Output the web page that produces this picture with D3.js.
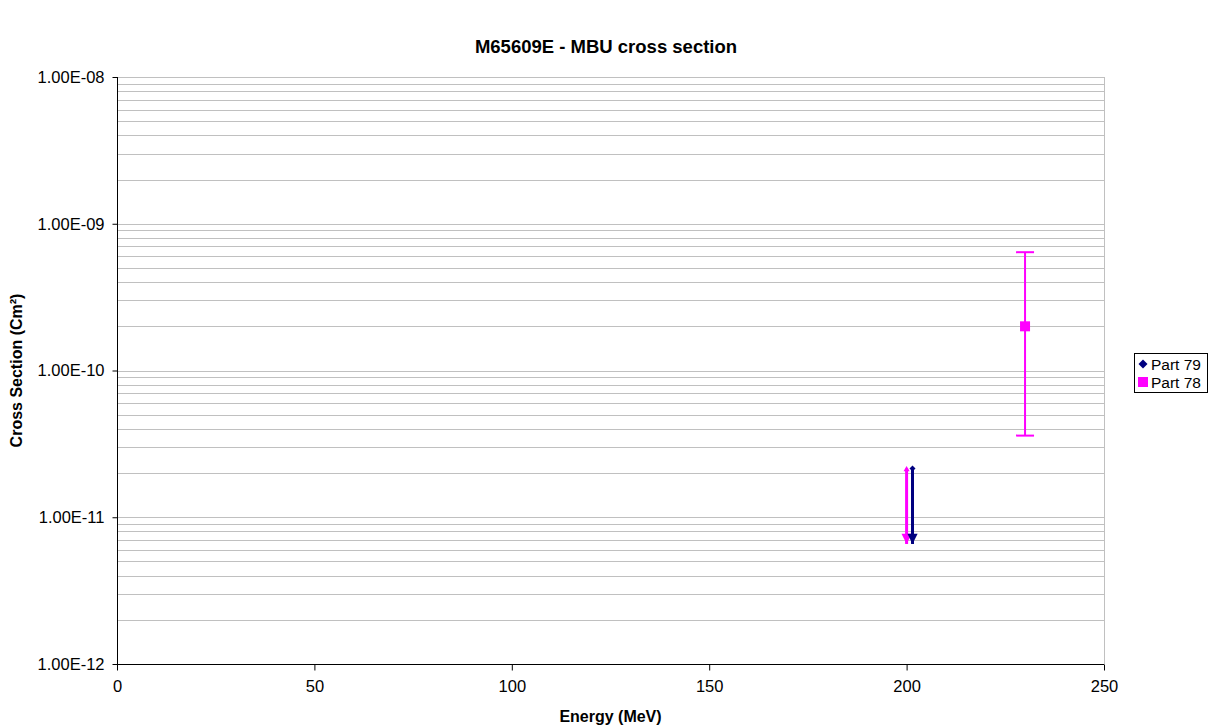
<!DOCTYPE html>
<html>
<head>
<meta charset="utf-8">
<script src="https://cdn.jsdelivr.net/npm/d3@7/dist/d3.min.js"></script>
<style>
  body { margin: 0; background: #fff; }
  svg { display: block; font-family: "Liberation Sans", Arial, sans-serif; }
</style>
</head>
<body>
<svg id="chart" width="1220" height="728"></svg>
<script>
// Series: Part 79 (upper limit, arrow down), Part 78 (upper limit + measured point with error bar)
const part79Energy = [201.5];
const part79Value = [2.15e-11];
const part79Limit = [7.0e-12];

const part78LimitEnergy = [200];
const part78LimitValue = [2.15e-11];
const part78LimitEnd = [7.0e-12];

const part78Energy = [230];
const part78Value = [2.0e-10];
const part78ErrHigh = [6.4e-10];
const part78ErrLow = [3.6e-11];

const xTicks = [0, 50, 100, 150, 200, 250];
const yTicks = [1e-12, 1e-11, 1e-10, 1e-9, 1e-8];
const seriesNames = ["Part 79", "Part 78"];
const seriesColors = ["#000080", "#ff00ff"];

const svg = d3.select("#chart");
const margin = { left: 117, right: 1104, top: 77, bottom: 664 };

const x = d3.scaleLinear().domain([0, 250]).range([margin.left, margin.right]);
const y = d3.scaleLog().domain([1e-12, 1e-8]).range([margin.bottom, margin.top]);

// Square diamond path (rotated square) of half-diagonal r
const diamond = r => `M0,${-r}L${r},0L0,${r}L${-r},0Z`;

// Gridlines: every 1..9 multiple in each decade
const gridVals = [];
for (let e = -12; e < -8; e++) {
  for (let m = 1; m <= 9; m++) gridVals.push(m * Math.pow(10, e));
}
gridVals.push(1e-8);
svg.append("g").selectAll("line").data(gridVals.filter(v => v > 1e-12)).join("line")
  .attr("x1", margin.left).attr("x2", margin.right)
  .attr("y1", d => Math.round(y(d)) + 0.5).attr("y2", d => Math.round(y(d)) + 0.5)
  .attr("stroke", "#c0c0c0").attr("stroke-width", 1);

// Right border of plot area
svg.append("line")
  .attr("x1", margin.right + 0.5).attr("x2", margin.right + 0.5)
  .attr("y1", margin.top).attr("y2", margin.bottom)
  .attr("stroke", "#c0c0c0");

// Axes
const xAxis = d3.axisBottom(x).tickValues(xTicks).tickSize(6).tickPadding(10).tickFormat(d3.format("d"));
const yAxis = d3.axisLeft(y).tickValues(yTicks).tickSize(5).tickPadding(8)
  .tickFormat(d => d.toExponential(2).toUpperCase().replace(/E([+-])(\d)$/, "E$10$2"));

const gx = svg.append("g").attr("transform", `translate(0,${margin.bottom + 0.5})`).call(xAxis);
const gy = svg.append("g").attr("transform", `translate(${margin.left + 0.5},0)`).call(yAxis);
[gx, gy].forEach(g => {
  g.select(".domain").remove();
  g.selectAll(".tick line").attr("stroke", "#000");
  g.selectAll(".tick text").attr("font-size", 16.5).attr("fill", "#000")
    .attr("font-family", "'Liberation Sans', Arial, sans-serif");
});
gx.append("line").attr("x1", margin.left).attr("x2", margin.right).attr("stroke", "#000");
gy.append("line").attr("y1", margin.top).attr("y2", margin.bottom).attr("stroke", "#000");

// Arrowhead markers
const defs = svg.append("defs");
seriesColors.forEach((c, i) => {
  defs.append("marker").attr("id", "arrow" + i)
    .attr("viewBox", "0 0 10 10").attr("refX", 10).attr("refY", 5)
    .attr("markerWidth", 3.6).attr("markerHeight", 3.4).attr("orient", "auto")
    .attr("markerUnits", "strokeWidth")
    .append("path").attr("d", "M0,0L10,5L0,10Z").attr("fill", c);
});

const plot = svg.append("g");

// Part 78 upper-limit arrow
part78LimitEnergy.forEach((e, i) => {
  plot.append("line")
    .attr("x1", x(e)).attr("x2", x(e))
    .attr("y1", y(part78LimitValue[i])).attr("y2", y(part78LimitEnd[i]) + 4)
    .attr("stroke", seriesColors[1]).attr("stroke-width", 3)
    .attr("marker-end", "url(#arrow1)");
  plot.append("path")
    .attr("transform", `translate(${x(e)},${y(part78LimitValue[i]) + 1})`)
    .attr("d", d3.symbol(d3.symbolTriangle, 16)())
    .attr("fill", seriesColors[1]);
});

// Part 79 upper-limit arrow
part79Energy.forEach((e, i) => {
  plot.append("line")
    .attr("x1", x(e)).attr("x2", x(e))
    .attr("y1", y(part79Value[i])).attr("y2", y(part79Limit[i]) + 4)
    .attr("stroke", seriesColors[0]).attr("stroke-width", 3)
    .attr("marker-end", "url(#arrow0)");
  plot.append("path")
    .attr("transform", `translate(${x(e)},${y(part79Value[i])})`)
    .attr("d", diamond(3))
    .attr("fill", seriesColors[0]);
});

// Part 78 measured point with error bar
part78Energy.forEach((e, i) => {
  const cx = x(e);
  plot.append("line").attr("x1", cx).attr("x2", cx)
    .attr("y1", y(part78ErrHigh[i])).attr("y2", y(part78ErrLow[i]))
    .attr("stroke", seriesColors[1]).attr("stroke-width", 2);
  [part78ErrHigh[i], part78ErrLow[i]].forEach(v => {
    plot.append("line").attr("x1", cx - 9).attr("x2", cx + 9)
      .attr("y1", y(v)).attr("y2", y(v))
      .attr("stroke", seriesColors[1]).attr("stroke-width", 2);
  });
  plot.append("rect")
    .attr("x", cx - 5).attr("y", y(part78Value[i]) - 5)
    .attr("width", 10).attr("height", 10)
    .attr("fill", seriesColors[1]);
});

// Title and axis labels
svg.append("text").attr("x", 606).attr("y", 53).attr("text-anchor", "middle")
  .attr("font-size", 18.5).attr("font-weight", "bold").text("M65609E - MBU cross section");
svg.append("text").attr("x", (margin.left + margin.right) / 2).attr("y", 722).attr("text-anchor", "middle")
  .attr("font-size", 16).attr("font-weight", "bold").text("Energy (MeV)");
svg.append("text")
  .attr("transform", `translate(22,${(margin.top + margin.bottom) / 2}) rotate(-90)`)
  .attr("text-anchor", "middle").attr("font-size", 16).attr("font-weight", "bold")
  .text("Cross Section (Cm²)");

// Legend
const lg = svg.append("g").attr("transform", "translate(1134,353)");
lg.append("rect").attr("x", 0.5).attr("y", 0.5).attr("width", 73).attr("height", 39)
  .attr("fill", "#fff").attr("stroke", "#000");
seriesNames.forEach((name, i) => {
  const row = lg.append("g").attr("transform", `translate(0,${11 + i * 18})`);
  if (i === 0) {
    row.append("path").attr("transform", "translate(9,0)")
      .attr("d", diamond(4.5)).attr("fill", seriesColors[i]);
  } else {
    row.append("rect").attr("x", 4).attr("y", -5).attr("width", 10).attr("height", 10)
      .attr("fill", seriesColors[i]);
  }
  row.append("text").attr("x", 17).attr("y", 6).attr("font-size", 15.5).text(name);
});
</script>
</body>
</html>
